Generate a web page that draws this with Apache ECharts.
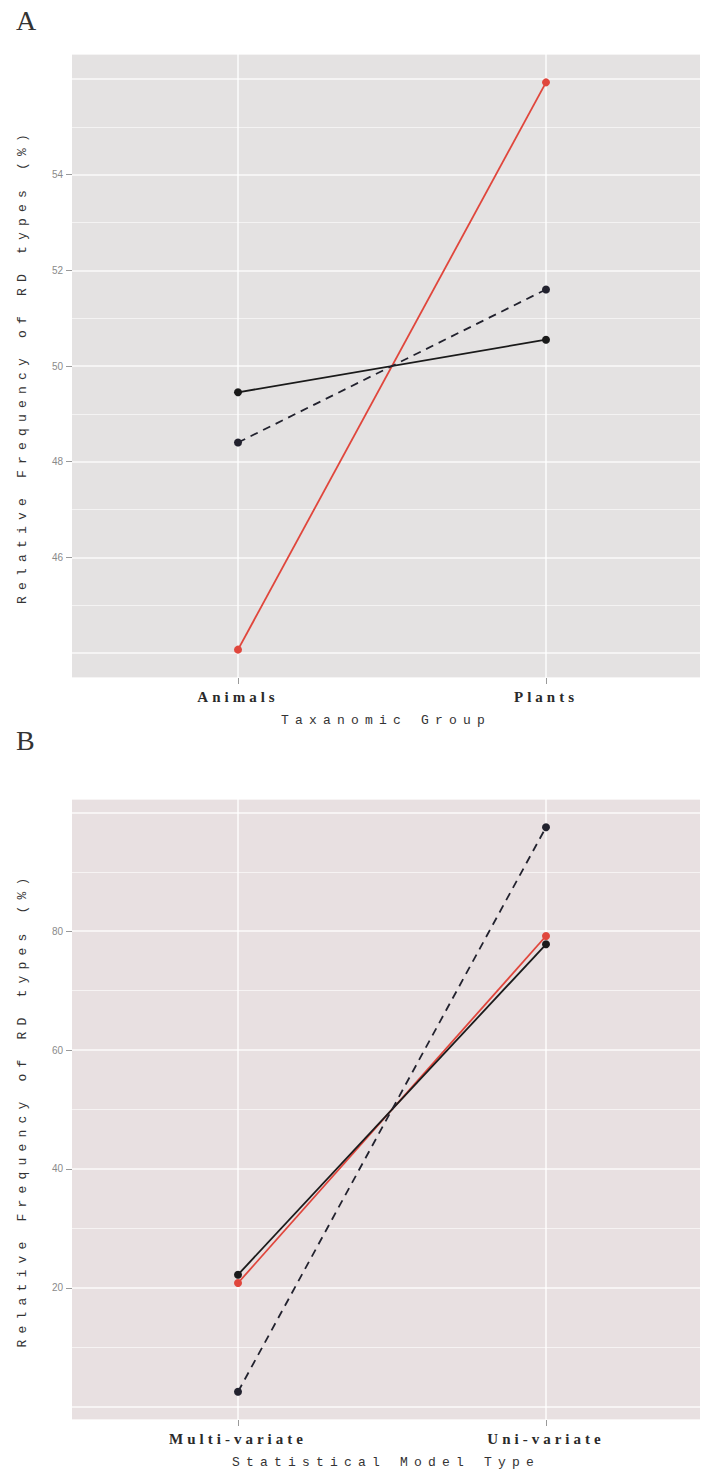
<!DOCTYPE html>
<html><head><meta charset="utf-8">
<script src="https://cdn.jsdelivr.net/npm/echarts@6/dist/echarts.min.js"></script>
<style>
html,body{margin:0;padding:0;background:#fff;}
#chart{width:702px;height:1473px;}
#chart text[style*="Liberation Mono"]{letter-spacing:6.2px;}
#chart text[style*="Liberation Serif"][style*="bold"]{letter-spacing:4px;}
</style></head><body><div id="chart"></div>
<script>
// Panel A: Taxonomic group
const taxaCategories = ['Animals', 'Plants'];
const taxaSolid = [49.45, 50.55];
const taxaDashed = [48.4, 51.6];
const taxaRed = [44.07, 55.93];
const taxaTicks = [46, 48, 50, 52, 54];
// Panel B: Statistical model type
const modelCategories = ['Multi-variate', 'Uni-variate'];
const modelSolid = [22.2, 77.8];
const modelDashed = [2.5, 97.5];
const modelRed = [20.8, 79.2];
const modelTicks = [20, 40, 60, 80];

const yTitle = 'Relative Frequency of RD types (%)';

function expandRange(arrs) {
  const all = [].concat(...arrs);
  const lo = Math.min(...all), hi = Math.max(...all);
  const pad = (hi - lo) * 0.05;
  return [lo - pad, hi + pad];
}
const rangeA = expandRange([taxaSolid, taxaDashed, taxaRed]);
const rangeB = expandRange([modelSolid, modelDashed, modelRed]);

const pairs = vals => vals.map((v, i) => [i, v]);

function xAxisFor(gi, cats, title) {
  return {
    gridIndex: gi, type: 'value', min: -0.539, max: 1.5, position: 'bottom',
    minInterval: 1, maxInterval: 1,
    axisLine: { show: false, onZero: false },
    axisTick: { show: true, customValues: [0, 1], length: 6, lineStyle: { color: '#9a9a9a', width: 1 } },
    axisLabel: {
      customValues: [0, 1], formatter: v => cats[Math.round(v)] || '',
      margin: 11, fontFamily: 'Liberation Serif', fontWeight: 'bold', fontSize: 15, color: '#2a2a2a'
    },
    splitLine: { show: true, lineStyle: { color: '#ffffff', width: 1.6, opacity: 0.85 } },
    name: title, nameLocation: 'middle', nameGap: 36,
    nameTextStyle: { fontFamily: 'Liberation Mono', fontSize: 13, color: '#333' }
  };
}
function yLabelAxis(gi, range, ticks) {
  return {
    gridIndex: gi, type: 'value', min: range[0], max: range[1], position: 'left',
    axisLine: { show: false, onZero: false },
    axisTick: { show: true, customValues: ticks, length: 6, lineStyle: { color: '#9a9a9a' } },
    axisLabel: { customValues: ticks, margin: 9, fontFamily: 'Liberation Sans', fontSize: 10, color: '#8a8a8a' },
    splitLine: { show: false },
    name: yTitle, nameLocation: 'middle', nameGap: 43,
    nameTextStyle: { fontFamily: 'Liberation Mono', fontSize: 13, color: '#333' }
  };
}
function yGridAxis(gi, range, step) {
  return {
    gridIndex: gi, type: 'value', min: range[0], max: range[1], position: 'left',
    minInterval: step, maxInterval: step,
    axisLine: { show: false, onZero: false }, axisTick: { show: false }, axisLabel: { show: false },
    splitLine: { show: true, lineStyle: { color: '#ffffff', width: 1.6, opacity: 0.85 } },
    minorTick: { show: false, splitNumber: 2 },
    minorSplitLine: { show: true, lineStyle: { color: '#ffffff', width: 0.8, opacity: 0.75 } }
  };
}
function lineSeries(xi, yi, vals, color, dashed, w) {
  return {
    type: 'line', xAxisIndex: xi, yAxisIndex: yi, data: pairs(vals),
    symbol: 'circle', symbolSize: 8, showSymbol: true,
    itemStyle: { color: color },
    lineStyle: { color: color, width: w, type: dashed ? [8, 6] : 'solid' },
    silent: true
  };
}

const chart = echarts.init(document.getElementById('chart'), null, { renderer: 'svg' });
chart.setOption({
  animation: false,
  backgroundColor: '#ffffff',
  title: [
    { text: 'A', left: 11, top: 1, textStyle: { fontFamily: 'Liberation Serif', fontWeight: 'normal', fontSize: 28, color: '#333' } },
    { text: 'B', left: 11, top: 721, textStyle: { fontFamily: 'Liberation Serif', fontWeight: 'normal', fontSize: 28, color: '#333' } }
  ],
  grid: [
    { left: 72, right: 2, top: 54, height: 624, show: true, backgroundColor: '#e4e2e2', borderWidth: 0 },
    { left: 72, right: 2, top: 799, height: 621, show: true, backgroundColor: '#e8e0e1', borderWidth: 0 }
  ],
  xAxis: [
    xAxisFor(0, taxaCategories, 'Taxanomic Group'),
    xAxisFor(1, modelCategories, 'Statistical Model Type')
  ],
  yAxis: [
    yLabelAxis(0, rangeA, taxaTicks),
    yGridAxis(0, rangeA, 2),
    yLabelAxis(1, rangeB, modelTicks),
    yGridAxis(1, rangeB, 20)
  ],
  series: [
    lineSeries(0, 0, taxaRed, '#e0463c', false, 1.8),
    lineSeries(0, 0, taxaSolid, '#1a1a1a', false, 1.8),
    lineSeries(0, 0, taxaDashed, '#22222e', true, 1.8),
    lineSeries(1, 2, modelRed, '#e0463c', false, 1.8),
    lineSeries(1, 2, modelSolid, '#1a1a1a', false, 1.8),
    lineSeries(1, 2, modelDashed, '#22222e', true, 1.8)
  ]
});
</script></body></html>
